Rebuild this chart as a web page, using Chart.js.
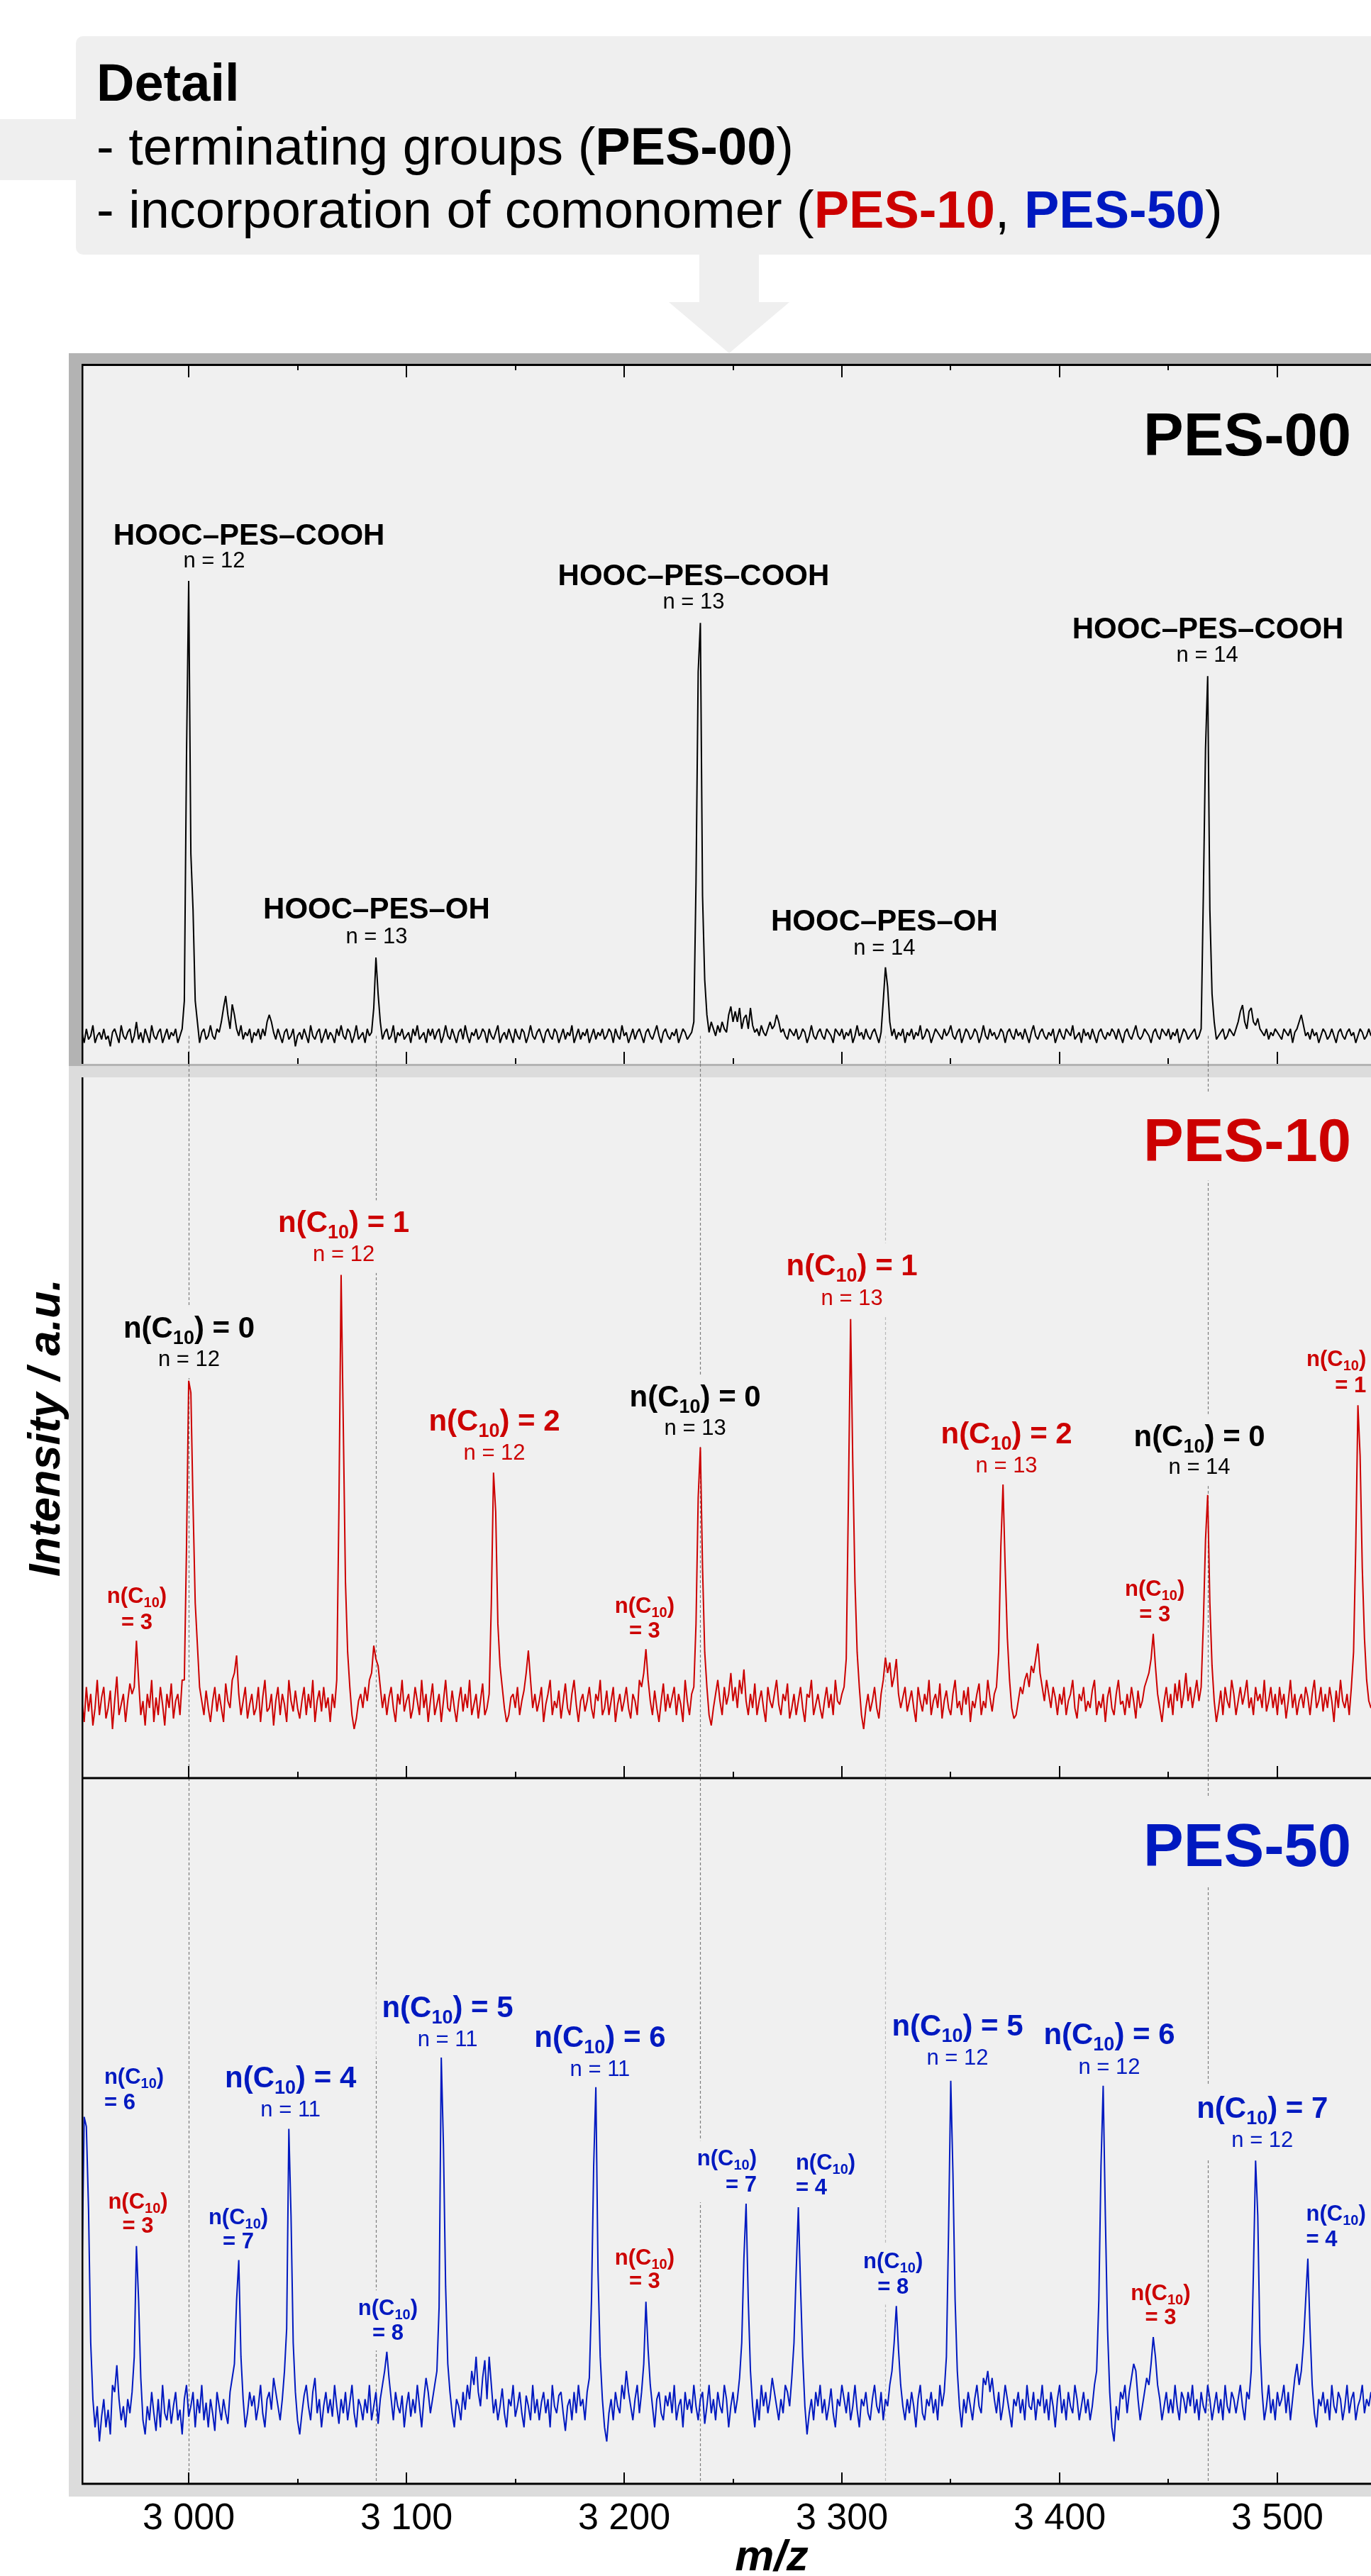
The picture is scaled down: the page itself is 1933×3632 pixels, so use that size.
<!DOCTYPE html>
<html><head><meta charset="utf-8">
<script src="https://cdn.jsdelivr.net/npm/chart.js@4.4.1/dist/chart.umd.min.js"></script>
<style>
html,body{margin:0;padding:0;background:#fff;overflow:hidden;}
#wrap{position:absolute;left:0;top:0;width:1933px;height:3632px;overflow:hidden;font-family:"Liberation Sans",Arial,Helvetica,sans-serif;}
.abs{position:absolute;}
#box{left:107px;top:51px;width:1900px;height:308px;background:#efefef;border-radius:10px 0 0 10px;}
#stub{left:0;top:168px;width:107px;height:86px;background:#efefef;}
#stem{left:986px;top:359px;width:84px;height:67px;background:#efefef;}
#tri{left:943px;top:426px;width:0;height:0;border-left:85px solid transparent;border-right:85px solid transparent;border-top:72px solid #efefef;}
.tl{position:absolute;left:136px;font-size:74px;line-height:90px;white-space:nowrap;color:#000;}
#frameA{left:97px;top:498px;width:2000px;height:1005px;background:#b3b3b3;}
#frameB{left:97px;top:1503px;width:2000px;height:2017px;background:#dcdcdc;}
canvas{position:absolute;left:0;}
</style></head>
<body>
<div id="wrap">
  <div class="abs" id="stub"></div>
  <div class="abs" id="box"></div>
  <div class="abs" id="stem"></div>
  <div class="abs" id="tri"></div>
  <div class="tl" style="top:72px;font-weight:bold">Detail</div>
  <div class="tl" style="top:162px">- terminating groups (<b>PES-00</b>)</div>
  <div class="tl" style="top:251px">- incorporation of comonomer (<b style="color:#cc0000">PES-10</b>, <b style="color:#0019c0">PES-50</b>)</div>
  <div class="abs" id="frameA"></div>
  <div class="abs" id="frameB"></div>
  <canvas id="cC" width="2061" height="1125" style="top:2507px"></canvas>
  <canvas id="cB" width="2061" height="1010" style="top:1500px"></canvas>
  <canvas id="cA" width="2061" height="987" style="top:513px"></canvas>
</div>
<script>
// ---------------- data ----------------
const mzStart = 2951;          // first sampled m/z
const mzStep = 1;              // sampling step (m/z)
const xMin = 2950.8, xMax = 3584.7;

const int00 = [
4.5,3,5,3.5,4,5.5,3,4,4.5,3.5,
5,3.5,4,2.5,4.5,5,4,3,5.5,4,
3.5,4.5,5,3,4,6,3.5,4.5,3,5,
4,3,5.5,4,3.5,4.5,5,3,4,5,
3.5,4.5,4,5,3,4,5,9,44,69,
30,22,9,6,3,4.5,5,3.5,4,5.5,
4,3.5,5,4.5,6,8,9.7,7,5,8.5,
7,5,4,5.5,3.5,4.5,4,5,3,4.5,
4,5,3.5,5,4,6,7,6,4.5,3.5,
5,4,3,4.5,5,3.5,4,5,2.5,4,
4.5,3.5,5,4,3,5.5,4,3.5,4.5,5,
3,4,5,3.5,4.5,4,3,5,4,5.5,
4,3.5,5,4.5,3,4,5.5,3.5,4,4.5,
3,5,4,4.5,8,15.2,10,6,3.5,4.5,
5,3.5,4,5.5,3,4.5,4,5,3.5,4,
4.5,3,5,4,5.5,3.5,4,4.5,3,5,
4,5,3.5,4.5,5,3,4,5.5,4,3.5,
5,4,3,4.5,5,3.5,5.5,4,3,4.5,
4,5,3.5,4,5,4.5,3,5,4,3.5,
4.5,5.5,3,4,4.5,3.5,5,4,3,5,
4,3.5,5,4.5,3,4,5.5,4,3.5,4.5,
5,4,3,4.5,5,4,3.5,5,4.5,3,
4,5,3.5,4.5,4,5.5,3,4,5,3.5,
4.5,4,5,3,4,5,3.5,4.5,4,5,
3.5,4,5,4.5,3,5,4,3.5,5.5,4,
4.5,3,4,5,3.5,4.5,5,4,3,4.5,
5,4,3.5,4.5,5.5,4,3,4.5,5,4,
3.5,4.5,4,5,3,4,5,4.5,3.5,4,
4.5,6,26,56,63,24,12,7,4.5,6,
5,4,5.5,4.5,6,5,4.5,7,8.2,6,
7.5,6,8,5,6.5,7,5,8,5.5,4.5,
5,4,5.5,4.5,4,5,6,5,5.5,7,
6,4.5,5,4,3.5,5,4.5,4,5,3.5,
4,5,4.5,3,4,5.5,4,3.5,4.5,5,
4,3.5,5,4.5,4,3,5,4.5,4,5,
3.5,4.5,4,5,3,4,5.5,4,4.5,3.5,
5,4,3.5,4.5,5,4,3,4.5,9,13.8,
11,6,4,5,3.5,4.5,4,5,3,4.5,
4,5,3.5,4.5,4,5.5,3.5,4,5,4.5,
3,4,5,4.5,4,3.5,5,4,4.5,5.5,
4,3.5,4.5,5,3,4,5,4.5,3.5,4,
5,4.5,3,4,5.5,4,3.5,5,4,4.5,
3.5,4,5,4.5,3,4.5,5,4,3.5,5,
4,4.5,3.5,5,4,3,4.5,5.5,4,3.5,
4.5,5,4,3.5,4.5,4,5,3,4,5,
4,3.5,5,4.5,4,5.5,3.5,4,4.5,3,
5,4,4.5,3.5,5,4,3,4.5,5,4,
3.5,4.5,4,5,4.5,3.5,5,4,3,4.5,
5,4,3.5,4.5,5.5,4,3.5,4,5,4.5,
4,3,4.5,5,4,3.5,5,4.5,4,5,
3.5,4.5,4,5,3,4,5,4.5,3.5,4,
4.5,5,3.5,4,5,24,45,55.4,22,10,
6,3.5,4,4.5,5,3.5,4,5,4.5,4,
5,6,7.5,8.4,6,5,7.5,8,6,5.5,
6.5,5,4.5,4,5,3.5,4.5,4,5,4.5,
4,3.5,5,4.5,4,5,3,4.5,5,6,
7,5.5,4,4.5,3.5,5,4,4.5,3,4,
5,4.5,3.5,4,5,4,3,4.5,5,4,
3.5,4.5,5,4,4.5,3,4,5,4.5,3.5,
4,5,4
];

const int10 = [
11,8,13,9.5,12,7.5,10,14,9,11.5,
13,8.5,10,12.5,7,11,14.5,9,10.5,12,
8,11,13.5,12,13,19.6,14,9,11,7.5,
12,10,14,8,11.5,9,13,10.5,7.5,12,
10,13.5,8.5,11,12,9,14,14,33,56.7,
55,39,25,19,13,11,9,12.5,10,8,
11,13,9.5,12,10,8,13.5,11,10,14,
15,17.5,12,9,11,13,8.5,10.5,12,9,
10,13,8,11.5,14,9.5,10,12,7.5,11,
13,9,12,10.5,8,14,11,9.5,12.5,10,
8.5,11,13,9,12,10,14,8,11,12.5,
9.5,13,10,11.5,8,12,10,14,38.6,71.8,
50.4,28,18,13,9,7,8.5,11,12,10,
13,11,14,15,18.9,17,16,13,10,12,
9,11.5,13,10,8,12,10.5,14,9.5,11,
12,8.5,10,13,11,9,14,10,12,8,
11,13.5,9,10.5,12,8,11,14,10,9.5,
12.5,10,8,11,13,9.5,12,10,14,9,
10.5,12,8.5,11,13.5,9,10,12,25,43.6,
38,22,16,13,10,8,9,11.5,12,10,
13,9,11,12.5,15,18.2,14,10,12,9.5,
11,13,8,10.5,12,14,9,11,10,12.5,
8.5,11,13.5,10,9,12,14,10.5,8,11,
12,9.5,11,13,10,8.5,12,11,14,9,
10,12.5,9,11,13,8,10.5,12,9.5,11,
13,10,8.5,12,11,9,14,13,15,18.4,
14,11,9,12.5,10,8,11,13.5,9.5,12,
10,11.5,13,9,12,10.5,8,14,11,9,
12,13,22,40,47.2,30,18,13,9,7.5,
10,12,14,11,9,13,10.5,12,15,11,
13,10,14,12,15.5,11,9,12,10,13.5,
9,11,12.5,10,8,13,11,10,12,14,
10.5,9,12,11,13.5,8.5,10,12,9,11,
13,10,8,12,11.5,14,9,10.5,12,10,
8.5,11,13,10,12,9,14,11,10.5,12,
13,17,40,65.5,45,28,18,13,9,7,
10,12,9.5,11,13,10,8.5,12,14,17.2,
15,16.5,13,14.5,17,12,10,11.5,13,9.5,
11,12.5,10,8,13,11,9.5,12,10.5,14,
9,11,12,10,13.5,8.5,11,12.5,10,9,
12,14,10,11,9,12.5,10.5,13,8,11,
10,12,13.5,9,11,10,14,11.5,9.5,12,
13,18,33,41.9,30,20,14,10,8.5,9,
11,13,12,14,15,13,16,15,17,19.2,
15,13,11,14,12,10,13,11.5,9,12,
10.5,13,9,11,12,14,10,8.5,12,11,
13,9.5,11,10,12.5,14,9,11,10,12,
8,11.5,13,10,9,12,14,10.5,11,9,
12,10,13,11,8.5,12.5,10,11,13,14,
15,17,20.6,16,12,10,8,11,13,10,
12,9,13.5,11,14,10,12,15,11,13,
10,12,14,11,13,22,34,40.4,25,16,
11,8,10,12.5,9,13,11,10,14,12,
9,11,13,10.5,12,14,10,11.5,9,13,
11,12,10,14,9.5,11,13,10,12,9,
13,10.5,12,8.5,11,14,10,12,9,11,
12,10,13,11.5,9,12,14,10,11,13,
9.5,12,10,13,11,8,12.5,10,14,11,
10,12,9,13,18,33,53.2,46,30,20,
14,11,10
];

const int50 = [
30,52,50.6,39,20,12,8,11,6,9.5,
12,8,10.5,7,14,13,16.8,12,9,11,
8,12,10,13,18,33.7,26,15,9,7,
11,9,13,10,7.5,12,8,14,10,9,
12,8.5,11,13,9,10.5,7,12,14,9.5,
11,13,8,12,10,14,9,11.5,8,12,
10,7.5,13,11,9,12,10,8.5,13,15,
17,26,31.7,18,12,8,10,13,11,12.5,
9,11,14,10,8,12,13,10.5,15,13,
11,9,12,16,22,50.3,38,20,13,9,
7,10,12.5,14,11,9,13,15,10,12,
8,11,13,10,12,9.5,14,11,8.5,12,
10,13,9,11.5,14,10,8,12,11,9,
12,10,14,9,11,13,8.5,12,14,16,
18.7,15,12,9,13,11,10,12.5,8,11,
13,9.5,12,10,14,11,8,12,15,13,
10,12,14,16,25,60.4,48,28,17,13,
10,8,12,11,9,13,10.5,14,12,16,
14,18,13,11,15,17.5,12,18,14,10,
12,9,11,13.5,10,8,12,11,14,9.5,
11,13,10,8,12.5,11,9,14,10,12,
9,11.5,13,10,12,8,14,11,10,12.5,
13,10,7.5,11,12,9,13,10,14,11,
12,9,13,15,26,45,56.2,30,18,12,
8,6,10,12,9,13,11,10,14,12,
16,13,11,9,12,14,10,13,17,25.8,
19,14,11,8,12,13,10,9,12.5,11,
13,10,14,9,11,12,8,13,10.5,12,
10,14,11,9,12,13,8.5,11,14,10,
12,9,13,11,10,14,12,8,11,13,
10,12,15,20,32,39.7,26,16,11,8,
12,9,14,11,13,10,12,15,13,11,
9,12,10,14,13,11,15,20,30,39.2,
28,18,11,7,10,12,9,13,11,14,
10,12,9,11,13.5,10,8,12,11,14,
12,10,13,9,11,14,10.5,8,12,11,
13,10,9,12,14,11,10,13,9,12,
11,14,16,20,25.2,19,14,11,9,12,
10,13,11,8,12,14,10,9,12,11,
13,10,12,9,14,11,13,18,36,57.1,
44,26,16,11,8,12,10,13,11,9,
12,14,11,10,15,14,16,13,15,12,
10,13,9,11,14,12,10,8,12,11,
13,10,12,9,14,11,10.5,13,9,12,
11,14,10,12,9,13,11,8,12,14,
10,12,9,13,11,10,14,12,9,11,
13,10,12,9,11,14,16,26,45,56.4,
38,22,13,8,6,11,9,13,12,14,
10,13,15,17,16,12,9,11,13,15,
14,17,20.8,18,14,12,9,11,13,10,
12,10,14,11,9,13,12,10,13,11,
14,10,12,9,13,11,10,14,12,9,
11,13,10,12,9,14,11,10,13,12,
10,12,14,11,9,13,12,16,30,45.8,
38,20,13,9,11,14,10,12,9,13,
11,12,14,10,13,9,12,15,17,14,
16,20,26,31.9,22,14,10,8,12,11,
13,10,12,9,14,11,10,13,12,9,
11,14,10,12,13,9,11,12,14,10,
12,11,13
];

const xTickValues = [3000,3050,3100,3150,3200,3250,3300,3350,3400,3450,3500,3550];
const xTickLabels = ['3 000','','3 100','','3 200','','3 300','','3 400','','3 500',''];
const guideMz = [3000.1, 3086.05, 3234.7, 3319.8, 3468.0];

// annotations: [mz main, y main, mz n-line, y n-line, main text, n text]
const ann00 = [
  [3027.7, 74.2, 3011.7, 70.9, 'HOOC–PES–COOH', 'n = 12'],
  [3231.9, 68.4, 3231.9, 65.0, 'HOOC–PES–COOH', 'n = 13'],
  [3468.1, 60.8, 3467.8, 57.4, 'HOOC–PES–COOH', 'n = 14'],
  [3086.3, 20.8, 3086.3, 17.2, 'HOOC–PES–OH', 'n = 13'],
  [3319.5, 19.0, 3319.5, 15.6, 'HOOC–PES–OH', 'n = 14']
];
// [mz, y main, y n-line, n(C10), n, sample]
const big10 = [
  [3000.15, 62.9, 58.8, 0, 12, 'PES-00'],
  [3071.2, 77.9, 73.8, 1, 12, 'PES-10'],
  [3140.4, 49.6, 45.4, 2, 12, 'PES-10'],
  [3232.6, 53.0, 49.0, 0, 13, 'PES-00'],
  [3304.6, 71.8, 67.5, 1, 13, 'PES-10'],
  [3375.6, 47.8, 43.6, 2, 13, 'PES-10'],
  [3464.2, 47.4, 43.4, 0, 14, 'PES-00']
];
// [mz, y line1, y line2, n(C10), sample, anchor]
const small10 = [
  [2976.2, 25.0, 21.3, 3, 'PES-10', 'center'],
  [3209.4, 23.6, 20.0, 3, 'PES-10', 'center'],
  [3443.7, 26.0, 22.4, 3, 'PES-10', 'center'],
  [3540.8, 58.8, 55.1, 1, 'PES-10', 'right']
];
const big50 = [
  [3046.8, 56.2, 52.1, 4, 11, 'PES-50'],
  [3118.9, 66.1, 62.0, 5, 11, 'PES-50'],
  [3188.9, 61.9, 57.8, 6, 11, 'PES-50'],
  [3353.1, 63.5, 59.4, 5, 12, 'PES-50'],
  [3422.8, 62.3, 58.1, 6, 12, 'PES-50'],
  [3493.1, 51.9, 47.7, 7, 12, 'PES-50']
];
const small50 = [
  [2961.2, 56.7, 53.1, 6, 'PES-50', 'left'],
  [2976.7, 39.0, 35.6, 3, 'PES-10', 'center'],
  [3022.8, 36.8, 33.4, 7, 'PES-50', 'center'],
  [3091.5, 23.9, 20.4, 8, 'PES-50', 'center'],
  [3209.4, 31.1, 27.7, 3, 'PES-10', 'center'],
  [3260.9, 45.1, 41.4, 7, 'PES-50', 'right'],
  [3278.8, 44.5, 41.0, 4, 'PES-50', 'left'],
  [3323.5, 30.6, 26.9, 8, 'PES-50', 'center'],
  [3446.4, 26.0, 22.6, 3, 'PES-10', 'center'],
  [3513.2, 37.3, 33.7, 4, 'PES-50', 'left']
];
const panelNames = [['PES-00', 3533.9, 86.9], ['PES-10', 3533.9, 88.1], ['PES-50', 3533.9, 87.5]];

// ---------------- styles ----------------
const FF = '"Liberation Sans", Arial, Helvetica, sans-serif';
const COLORS = {'PES-00': '#000000', 'PES-10': '#cc0000', 'PES-50': '#0019c0'};
const fnt = (w, s, st) => `${st || 'normal'} normal ${w} ${s}px ${FF}`;
const c10Big = k => [{t: 'n(C', f: fnt('bold', 42)}, {t: '10', f: fnt('bold', 27), dy: 9}, {t: ') = ' + k, f: fnt('bold', 42)}];
const c10Small = () => [{t: 'n(C', f: fnt('bold', 31)}, {t: '10', f: fnt('bold', 20), dy: 6}, {t: ')', f: fnt('bold', 31)}];
const nLine = n => [{t: n, f: fnt('normal', 31)}];

function segsWidth(ctx, segs) { let w = 0; for (const s of segs) { ctx.font = s.f; w += ctx.measureText(s.t).width; } return w; }
function segsLeft(ctx, segs, x, align) { const w = segsWidth(ctx, segs); return [align === 'center' ? x - w / 2 : align === 'right' ? x - w : x, w]; }
function drawSegs(ctx, segs, x, y, align, color) {
  let [sx] = segsLeft(ctx, segs, x, align);
  ctx.fillStyle = color; ctx.textAlign = 'left'; ctx.textBaseline = 'alphabetic';
  for (const s of segs) { ctx.font = s.f; ctx.fillText(s.t, sx, y + (s.dy || 0)); sx += ctx.measureText(s.t).width; }
}
function labelBox(ctx, L, xs, ys) {
  let l = Infinity, r = -Infinity;
  L.lines.forEach(li => { const [sx, w] = segsLeft(ctx, li.segs, xs.getPixelForValue(li.mz), li.align); l = Math.min(l, sx); r = Math.max(r, sx + w); });
  const t = ys.getPixelForValue(L.lines[0].v) - L.pad.t;
  const b = ys.getPixelForValue(L.lines[L.lines.length - 1].v) + L.pad.b;
  return [l - L.pad.s, t, r + L.pad.s, b];
}
function bigLabels(arr) {
  return arr.map(a => ({color: a[5], pad: {t: 45, b: 17, s: 8}, lines: [
    {segs: c10Big(a[3]), mz: a[0], v: a[1], align: 'center'},
    {segs: nLine('n = ' + a[4]), mz: a[0], v: a[2], align: 'center'}]}));
}
function smallLabels(arr) {
  return arr.map(a => ({color: a[4], pad: {t: 35, b: 15, s: 6}, lines: [
    {segs: c10Small(), mz: a[0], v: a[1], align: a[5]},
    {segs: [{t: '= ' + a[3], f: fnt('bold', 31)}], mz: a[0], v: a[2], align: a[5]}]}));
}
function nameLabel(p) {
  return {color: p[0], pad: {t: 97, b: 28, s: 10}, lines: [{segs: [{t: p[0], f: fnt('bold', 85)}], mz: p[1], v: p[2], align: 'right'}]};
}
const labelsA = ann00.map(a => ({color: 'PES-00', pad: {t: 45, b: 17, s: 8}, lines: [
  {segs: [{t: a[4], f: fnt('bold', 42)}], mz: a[0], v: a[1], align: 'center'},
  {segs: nLine(a[5]), mz: a[2], v: a[3], align: 'center'}]})).concat([nameLabel(panelNames[0])]);
const labelsB = bigLabels(big10).concat(smallLabels(small10), [nameLabel(panelNames[1])]);
const labelsC = bigLabels(big50).concat(smallLabels(small50), [nameLabel(panelNames[2])]);

function line(ctx, x0, y0, x1, y1) { ctx.beginPath(); ctx.moveTo(x0, y0); ctx.lineTo(x1, y1); ctx.stroke(); }

function panelPlugin(p) {
  return {
    id: 'panel' + p.key,
    beforeDraw(chart) {
      const {ctx, chartArea: a} = chart;
      ctx.save(); ctx.fillStyle = '#f0f0f0';
      ctx.fillRect(a.left, a.top, a.right - a.left, a.bottom - a.top);
      ctx.restore();
    },
    beforeDatasetsDraw(chart) {
      const {ctx, chartArea: a, scales: {x, y}} = chart;
      ctx.save();
      guideMz.forEach((m, i) => {
        const px = Math.round(x.getPixelForValue(m)) + 0.5;
        const top = p.guideTop === 'canvas' ? 0 : (p.guideFrom != null ? y.getPixelForValue(p.guideFrom) : a.top);
        ctx.strokeStyle = i === 3 ? '#b9b9b9' : '#7d7d7d';
        ctx.lineWidth = 1.2; ctx.setLineDash([4, 3]);
        line(ctx, px, top, px, a.bottom);
      });
      ctx.setLineDash([]);
      ctx.fillStyle = '#f0f0f0';
      p.labels.forEach(L => { const b = labelBox(ctx, L, x, y); ctx.fillRect(b[0], b[1], b[2] - b[0], b[3] - b[1]); });
      ctx.restore();
    },
    afterDatasetsDraw(chart) {
      const {ctx, chartArea: a, scales: {x, y}} = chart;
      ctx.save();
      p.labels.forEach(L => L.lines.forEach(li => drawSegs(ctx, li.segs, x.getPixelForValue(li.mz), y.getPixelForValue(li.v), li.align, COLORS[L.color])));
      ctx.strokeStyle = '#000'; ctx.lineCap = 'butt';
      ctx.lineWidth = 2.5; line(ctx, a.left + 1.25, a.top, a.left + 1.25, a.bottom);
      p.axes.forEach(ax => {
        const yy = ax.side === 'top' ? a.top : a.bottom;
        if (ax.line) { ctx.lineWidth = 3; line(ctx, a.left, yy + ax.off, a.right, yy + ax.off); }
        ctx.lineWidth = 2;
        const dir = ax.side === 'top' ? 1 : -1;
        xTickValues.forEach(v => {
          const px = Math.round(x.getPixelForValue(v));
          line(ctx, px, yy, px, yy + dir * (v % 100 === 0 ? ax.major : ax.minor));
        });
      });
      ctx.restore();
    }
  };
}

const toXY = arr => arr.map((v, i) => ({x: mzStart + i * mzStep, y: v}));

function makeChart(id, values, color, p, scalesExtra, padding) {
  const xBase = {type: 'linear', min: xMin, max: xMax, display: false};
  const yBase = {min: 0, max: 100, display: false};
  return new Chart(document.getElementById(id), {
    type: 'line',
    data: {datasets: [{data: toXY(values), borderColor: color, borderWidth: 2, pointRadius: 0, tension: 0, fill: false, borderJoinStyle: 'bevel'}]},
    options: {
      responsive: false, animation: false, devicePixelRatio: 1, events: [],
      layout: {padding: padding},
      plugins: {legend: {display: false}, tooltip: {enabled: false}, title: {display: false}},
      scales: {x: Object.assign(xBase, scalesExtra.x || {}), y: Object.assign(yBase, scalesExtra.y || {})}
    },
    plugins: [panelPlugin(p)]
  });
}

makeChart('cC', int50, COLORS['PES-50'],
  {key: 'C', labels: labelsC, axes: [{side: 'bottom', line: true, off: 0, major: 16, minor: 7}]},
  {x: {display: true, position: 'bottom',
       afterBuildTicks: s => { s.ticks = xTickValues.map(v => ({value: v})); },
       ticks: {autoSkip: false, maxRotation: 0, minRotation: 0, padding: 18, color: '#000', font: {family: FF, size: 52},
               callback: v => xTickLabels[xTickValues.indexOf(v)]},
       grid: {display: false, drawTicks: false}, border: {display: false},
       title: {display: true, text: 'm/z', color: '#000', font: {family: FF, size: 62, weight: 'bold', style: 'italic', lineHeight: 0.8}, padding: 0},
       afterFit: s => { s.height = 130; }}},
  {left: 115, top: 0, right: 0, bottom: 0});

makeChart('cB', int10, COLORS['PES-10'],
  {key: 'B', labels: labelsB, guideTop: 'canvas', axes: [{side: 'bottom', line: true, off: 0, major: 17, minor: 9}]},
  {y: {display: true, position: 'left', ticks: {display: false}, grid: {display: false, drawTicks: false}, border: {display: false},
       title: {display: true, text: 'Intensity / a.u.', color: '#000', font: {family: FF, size: 63, weight: 'bold', style: 'italic'}, padding: {top: 29, bottom: 0}},
       afterFit: s => { s.width = 115; }}},
  {left: 0, top: 19, right: 0, bottom: 3});

makeChart('cA', int00, COLORS['PES-00'],
  {key: 'A', labels: labelsA, guideFrom: 4, axes: [{side: 'top', line: true, off: 1.5, major: 19, minor: 9}, {side: 'bottom', line: false, off: 0, major: 17, minor: 8}]},
  {}, {left: 115, top: 0, right: 0, bottom: 0});
</script>
</body></html>
